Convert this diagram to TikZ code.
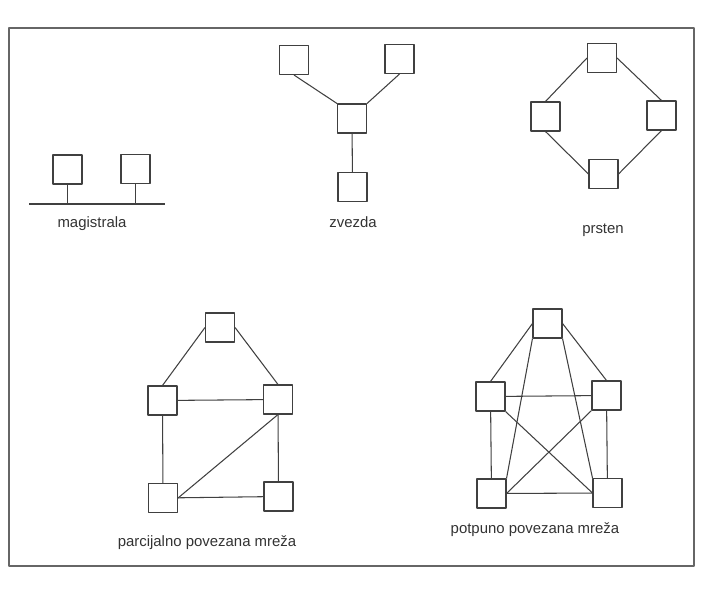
\documentclass[tikz,border=0pt]{standalone}
\usepackage{fontspec}
\setmainfont{Liberation Sans}
\usetikzlibrary{positioning}
\tikzset{host/.style={draw=black!75,line width=0.6pt,minimum size=0.58cm,inner sep=0pt},
  lnk/.style={draw=black!75,line width=0.6pt},
  capt/.style={font=\fontsize{8.5}{10}\selectfont,text=black!80}}

\begin{document}
\begin{tikzpicture}[x=0.02cm,y=-0.02cm,line join=round]
\useasboundingbox (0,0) rectangle (703,591);
\draw[black!60,line width=0.7pt] (9,28) rectangle (694,566); % frame
% --- magistrala
\node[host] (m1) at (67.5,169.5) {};
\node[host] (m2) at (135.5,169) {};
\coordinate (busL) at (29,204); \coordinate (busR) at (165,204);
\draw[lnk] (busL) -- (busR);
\draw[lnk] (m1) -- (m1 |- busL); \draw[lnk] (m2) -- (m2 |- busL);
\node[capt] (mcap) at (92,224) {magistrala};
% --- zvezda
\node[host] (ztl) at (294,60) {};
\node[host] (ztr) at (399.5,59) {};
\node[host] (zc) at (352,118.5) {};
\node[host] (zb) at (352.5,187) {};
\draw[lnk] (ztl.south) -- (zc.north west); \draw[lnk] (ztr.south) -- (zc.north east);
\draw[lnk] (zc) -- (zb);
\node[capt] (zcap) at (353,222) {zvezda};
% --- prsten
\node[host] (pt) at (602,58) {};
\node[host] (pl) at (545.5,116.5) {};
\node[host] (pr) at (661.5,115.5) {};
\node[host] (pb) at (603.5,174) {};
\draw[lnk] (pt.west) -- (pl.north); \draw[lnk] (pt.east) -- (pr.north);
\draw[lnk] (pl.south) -- (pb.west); \draw[lnk] (pr.south) -- (pb.east);
\node[capt] (pcap) at (603,230) {prsten};
% --- parcijalno povezana
\node[host] (at) at (220,327.5) {};
\node[host] (al) at (162.5,400.5) {};
\node[host] (ar) at (278,399.5) {};
\node[host] (abl) at (163,498) {};
\node[host] (abr) at (278.5,496.5) {};
\draw[lnk] (at.west) -- (al.north); \draw[lnk] (at.east) -- (ar.north);
\draw[lnk] (al) -- (ar); \draw[lnk] (al) -- (abl); \draw[lnk] (ar) -- (abr);
\draw[lnk] (abl) -- (abr); \draw[lnk] (abl.east) -- (ar.south);
\node[capt] (acap) at (207,543) {parcijalno povezana mreža};
% --- potpuno povezana
\node[host] (ft) at (547.5,323.5) {};
\node[host] (fl) at (490.5,396.5) {};
\node[host] (fr) at (606.5,395.5) {};
\node[host] (fbl) at (491.5,493.5) {};
\node[host] (fbr) at (607.5,493) {};
\draw[lnk] (ft.west) -- (fl.north); \draw[lnk] (ft.east) -- (fr.north);
\draw[lnk] (ft.south west) -- (fbl.north east); \draw[lnk] (ft.south east) -- (fbr.north west);
\draw[lnk] (fl) -- (fr); \draw[lnk] (fl) -- (fbl); \draw[lnk] (fr) -- (fbr); \draw[lnk] (fbl) -- (fbr);
\draw[lnk] (fl.south east) -- (fbr.west); \draw[lnk] (fr.south west) -- (fbl.east);
\node[capt] (fcap) at (535,530) {potpuno povezana mreža};
\end{tikzpicture}
\end{document}
